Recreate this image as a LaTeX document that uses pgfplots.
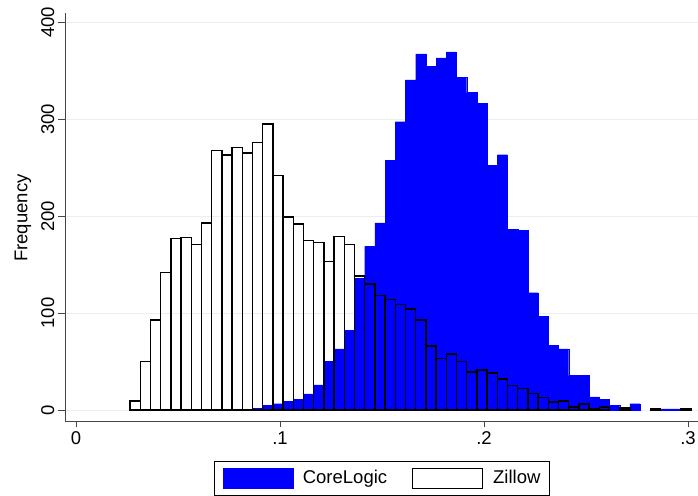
\documentclass[border=0pt]{standalone}
\usepackage{pgfplots}
\pgfplotsset{compat=1.18}
\usepackage{pgfplotstable}
\usepackage{fontspec}
\setmainfont{Liberation Sans}
\definecolor{gridc}{RGB}{232,240,242}
\definecolor{cblue}{RGB}{0,0,255}
\definecolor{axc}{RGB}{70,70,70}

% CoreLogic bins: left edge, frequency (last row = right edge)
\pgfplotstableread{
x y
0.0865 2
0.0915 4.5
0.0965 6.5
0.1015 8.6
0.1065 10.7
0.1115 16.5
0.1165 25.8
0.1215 50
0.1265 63
0.1315 82
0.1365 136
0.1415 169
0.1465 193
0.1515 257.5
0.1565 297.5
0.1615 340.6
0.1665 367.5
0.1715 354.5
0.1765 363.3
0.1815 369.5
0.1865 343.5
0.1915 327.5
0.1965 316.4
0.2015 252.6
0.2065 263.4
0.2115 186.7
0.2165 185.4
0.2215 121
0.2265 96.5
0.2315 67
0.2365 63
0.2415 35.5
0.2465 36
0.2515 13.4
0.2565 11
0.2615 4.5
0.2665 3
0.2715 6.5
0.2765 0
}\corelogic
\pgfplotstableread{
x y
0.2865 1
0.2915 1
0.2965 0
}\corelogictail

% Zillow bins
\pgfplotstableread{
x y
0.0265 9
0.0315 50
0.0365 93
0.0415 142
0.0465 177
0.0515 178
0.0565 171
0.0615 193
0.0665 268
0.0715 263
0.0765 271
0.0815 265
0.0865 276
0.0915 295
0.0965 242
0.1015 199
0.1065 192
0.1115 175
0.1165 173
0.1215 153
0.1265 179
0.1315 171
0.1365 138
0.1415 130
0.1465 118
0.1515 114
0.1565 109
0.1615 104
0.1665 93
0.1715 66
0.1765 53
0.1815 58
0.1865 50
0.1915 39
0.1965 41
0.2015 38
0.2065 32
0.2115 25
0.2165 22
0.2215 17
0.2265 13
0.2315 8
0.2365 9
0.2415 3
0.2465 6
0.2515 1
0.2565 3
0.2615 0
}\zillow
\pgfplotstableread{
x y
0.2665 2
0.2715 0
}\zillowa
\pgfplotstableread{
x y
0.2815 1
0.2865 0
}\zillowb
\pgfplotstableread{
x y
0.2965 1
0.3015 0
}\zillowc

\begin{document}
\fontsize{18.5}{22}\selectfont
\begin{tikzpicture}[x=1pt,y=1pt]
\useasboundingbox (0,0) rectangle (698,495);
\begin{axis}[
  at={(65pt,74pt)}, anchor=south west,
  scale only axis, width=633pt, height=408.3pt,
  xmin=-0.0054, xmax=0.3049, ymin=-11.4, ymax=410,
  axis x line=bottom, axis y line=left,
  axis line style={-, line width=0.8pt, axc},
  tick align=outside, major tick length=6.5pt,
  tick style={line width=0.8pt, axc},
  xtick={0,0.1,0.2,0.3}, xticklabels={0,.1,.2,.3},
  ytick={0,100,200,300,400}, yticklabels={0,100,200,300,400},
  xticklabel style={inner sep=0pt, anchor=north, yshift=-4pt},
  yticklabel style={xshift=-4pt, rotate=90, anchor=south, inner sep=0pt},
  ymajorgrids, grid style={gridc, line width=0.8pt},
  ylabel={Frequency},
  ylabel style={at={(axis description cs:-0.0664,0.497)}, anchor=center, inner sep=0pt},
  legend columns=2,
  legend style={at={(axis description cs:0.5,0)}, anchor=north, yshift=-40pt,
    draw=black, line width=0.8pt, inner xsep=8.5pt, inner ysep=6.5pt,
    nodes={inner xsep=0pt, inner ysep=0pt},
    /tikz/every odd column/.append style={column sep=10pt},
    /tikz/every even column/.append style={column sep=25pt}},
]
\addplot[ybar interval, fill=cblue, draw=cblue, line width=0.3pt,
  legend image code/.code={\draw[fill=cblue, draw=cblue, line width=0.3pt] (0pt,-10pt) rectangle (70pt,10pt);}]
  table[x=x,y=y]{\corelogic};
\addlegendentry{CoreLogic}
\addplot[ybar interval, fill=none, draw=black, line width=1.5pt,
  legend image code/.code={\draw[fill=white, draw=black, line width=1pt] (0pt,-10pt) rectangle (70pt,10pt);}]
  table[x=x,y=y]{\zillow};
\addlegendentry{Zillow}
\addplot[ybar interval, fill=cblue, draw=cblue, line width=0.3pt, forget plot] table[x=x,y=y]{\corelogictail};
\addplot[ybar interval, fill=none, draw=black, line width=1.5pt, forget plot] table[x=x,y=y]{\zillowa};
\addplot[ybar interval, fill=none, draw=black, line width=1.5pt, forget plot] table[x=x,y=y]{\zillowb};
\addplot[ybar interval, fill=none, draw=black, line width=1.5pt, forget plot] table[x=x,y=y]{\zillowc};
\end{axis}
\end{tikzpicture}
\end{document}
